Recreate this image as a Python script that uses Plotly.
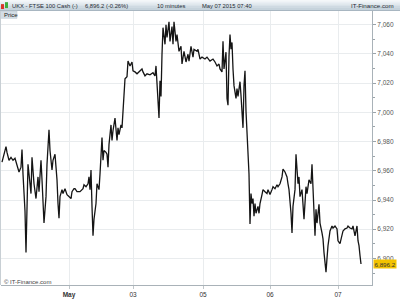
import plotly.graph_objects as go

# ---- data (bar index, close price) ----
bars = [2,4,6,7,9,11,13,15,17,19,21,22,23,25,26,27,28,29,31,32,34,36,38,39,41,42,44,46,47,49,50,52,53,55,57,58,59,60,62,63,65,67,69,71,72,74,
        75,77,80,83,84,86,88,89,90,91,92,93,94,96,97,99,100,102,103,104,106,107,108,109,111,112,113,115,117,118,119,121,122,123,124,125,127,128,130,132,133,135,137,139,142,
        143,145,147,150,153,155,156,157,158,159,160,161,162,163,165,166,167,169,170,172,173,174,176,177,179,181,182,184,186,188,189,191,193,194,197,198,200,202,205,207,210,213,215,217,219,
        220,222,223,224,226,227,228,229,230,231,232,233,234,236,237,238,240,241,242,243,244,245,246,247,248,249,250,251,252,253,254,255,256,258,259,260,262,263,265,267,268,270,272,273,275,277,278,280,282,283,285,287,288,
        289,291,292,293,295,296,297,298,299,300,302,303,304,306,307,309,311,312,313,314,315,316,317,319,320,322,323,324,325,326,327,328,330,332,333,335,337,338,340,342,343,345,347,348,350,352,353,355,357,358,359,360,361]
prices = [6965.9,6970.6,6976.6,6972.6,6967.2,6969.2,6967.2,6968.6,6964.5,6959.2,6962.5,6974.6,6957.8,6932.3,6904.0,6942.3,6964.5,6957.8,6944.4,6969.2,6951.1,6941.0,6955.8,6945.7,6967.2,6953.8,6924.2,6942.3,6964.5,6988.1,6973.9,6960.5,6967.2,6971.3,6953.8,6937.6,6927.6,6942.3,6947.1,6944.4,6947.7,6943.7,6942.3,6941.0,6945.7,6947.7,
          6947.7,6945.7,6945.7,6947.7,6950.4,6949.1,6951.1,6955.8,6947.1,6960.5,6935.6,6915.5,6926.9,6937.6,6951.1,6947.1,6957.8,6982.7,6967.2,6973.9,6972.6,6971.3,6962.5,6978.0,6991.4,6980.7,6987.4,6996.1,6980.7,6989.4,6984.7,6991.4,6989.4,7002.9,7018.3,7023.0,7024.4,7035.1,7031.8,7034.5,7028.4,7027.7,7026.4,7027.7,7029.7,
          7027.7,7025.0,7026.4,7025.7,7027.1,7025.0,7031.8,7016.3,7007.6,6996.1,7021.7,7010.9,7039.8,7058.0,7046.6,7060.0,7051.3,7062.0,7048.6,7058.7,7046.6,7062.0,7048.6,7053.3,7041.8,7045.2,7033.1,7041.8,7034.5,7039.8,7035.1,7045.2,7037.8,7043.2,7041.8,7043.2,7036.5,7037.8,7036.5,7037.8,7035.1,7036.5,7034.5,7031.8,7033.1,
          7029.7,7027.7,7048.6,7029.7,7041.2,7009.6,7004.9,7038.5,7053.3,7043.2,7047.9,7029.7,7018.3,7009.6,7016.3,7010.9,7021.0,7011.6,6998.1,6989.4,7018.3,7028.4,7000.8,6984.7,6978.0,6957.8,6923.5,6944.4,6937.6,6941.0,6928.9,6937.6,6930.9,6935.6,6930.9,6937.6,6943.7,6947.1,6945.7,6944.4,6947.1,6943.7,6947.1,6949.1,6947.7,6950.4,6949.1,6951.1,6955.8,6961.2,6959.2,6955.8,6951.1,
          6947.1,6930.9,6917.5,6935.6,6947.1,6971.3,6957.8,6951.1,6955.8,6942.3,6947.1,6937.6,6926.9,6949.1,6944.4,6953.8,6951.1,6964.5,6947.1,6935.6,6915.5,6933.6,6924.2,6937.0,6924.2,6917.5,6913.4,6904.0,6897.3,6890.6,6900.0,6908.7,6918.8,6922.2,6920.8,6922.2,6920.2,6912.1,6910.1,6917.5,6918.8,6920.2,6920.8,6922.2,6920.8,6920.2,6922.2,6915.5,6922.2,6912.1,6908.7,6902.0,6896.2]

tick_bars = [69, 133, 203, 270, 338]
tick_labels = ["<b>May</b>", "03", "05", "06", "07"]
last_price = 6896.2
header_items = ["UKX - FTSE 100 Cash (-)", "6,896.2 (-0.26%)", "10 minutes", "May 07 2015 07:40"]

W, H = 400, 300
L, R, T, B = 1, 28, 11, 10
pw, ph = W - L - R, H - T - B

def px(x):
    return (x - L) / pw

def py(y):
    return 1 - (y - T) / ph

FONT = "Liberation Sans, Arial, sans-serif"

fig = go.Figure()
fig.add_trace(go.Scatter(x=bars, y=prices, mode="lines",
                         line=dict(color="#151515", width=1.3), hoverinfo="skip"))

shapes = []
# header gradient bands
grad = ["#f0f4f7", "#e4ebf0", "#d9e2e9", "#cfdae2", "#c6d3dc"]
for i, c in enumerate(grad):
    shapes.append(dict(type="rect", xref="paper", yref="paper", x0=px(0), x1=px(400),
                       y0=py(2 * i + 2), y1=py(2 * i), fillcolor=c, line=dict(width=0), layer="above"))
shapes.append(dict(type="line", xref="paper", yref="paper", x0=px(0), x1=px(400),
                   y0=py(10.5), y1=py(10.5), line=dict(color="#a8b6c1", width=1)))
# icon
shapes.append(dict(type="rect", xref="paper", yref="paper", x0=px(1), x1=px(4), y0=py(9), y1=py(4),
                   fillcolor="#d9362b", line=dict(width=0)))
shapes.append(dict(type="rect", xref="paper", yref="paper", x0=px(5), x1=px(8), y0=py(8), y1=py(2),
                   fillcolor="#3fae3f", line=dict(width=0)))
# Price tab
shapes.append(dict(type="rect", xref="paper", yref="paper", x0=px(0), x1=px(17), y0=py(18.5), y1=py(11),
                   fillcolor="#d3dde5", line=dict(color="#b8c4cd", width=0.5)))
# left border
shapes.append(dict(type="line", xref="paper", yref="paper", x0=px(0.5), x1=px(0.5), y0=py(290), y1=py(11),
                   line=dict(color="#c8cfd4", width=1)))

annotations = []
hx = [10, 83, 155, 200]
for t, x in zip(header_items, hx):
    annotations.append(dict(text=t, xref="paper", yref="paper", x=px(x), y=py(5.5), xanchor="left",
                            yanchor="middle", showarrow=False, font=dict(family=FONT, size=5.8, color="#1e2a33")))
annotations.append(dict(text="IT-Finance.com", xref="paper", yref="paper", x=px(396), y=py(5.5),
                        xanchor="right", yanchor="middle", showarrow=False,
                        font=dict(family=FONT, size=6.2, color="#1e2a33")))
annotations.append(dict(text="Price", xref="paper", yref="paper", x=px(1.5), y=py(14.8), xanchor="left",
                        yanchor="middle", showarrow=False, font=dict(family=FONT, size=6, color="#222")))
annotations.append(dict(text="© IT-Finance.com", xref="paper", yref="paper", x=px(2), y=py(286.5),
                        xanchor="left", yanchor="middle", showarrow=False,
                        font=dict(family=FONT, size=6, color="#444")))
annotations.append(dict(text="6,896.2", xref="paper", yref="y", x=1, y=last_price, xanchor="left",
                        yanchor="middle", xshift=1, showarrow=False, bgcolor="#f3c300", borderpad=0.5,
                        font=dict(family=FONT, size=6.2, color="#333")))

fig.update_layout(
    width=W, height=H, margin=dict(l=L, r=R, t=T, b=B),
    paper_bgcolor="white", plot_bgcolor="white", showlegend=False,
    shapes=shapes, annotations=annotations,
    xaxis=dict(range=[1, 372], tickvals=tick_bars, ticktext=tick_labels, showgrid=True,
               gridcolor="#e9ecee", gridwidth=1, zeroline=False, showline=True, linecolor="#a9b2b8",
               ticks="outside", ticklen=3, tickcolor="#c0c6ca",
               tickfont=dict(family=FONT, size=6.5, color="#333")),
    yaxis=dict(side="right", range=[6881.8, 7069.4], dtick=20, tickformat=",.0f", showgrid=True,
               gridcolor="#e9ecee", zeroline=False, showline=True, linecolor="#a9b2b8",
               ticks="outside", ticklen=3, tickcolor="#9aa3a9",
               minor=dict(dtick=10, ticks="outside", ticklen=2, tickcolor="#9aa3a9", showgrid=False),
               tickfont=dict(family=FONT, size=6.5, color="#555")),
)

fig.write_html("out.html")
